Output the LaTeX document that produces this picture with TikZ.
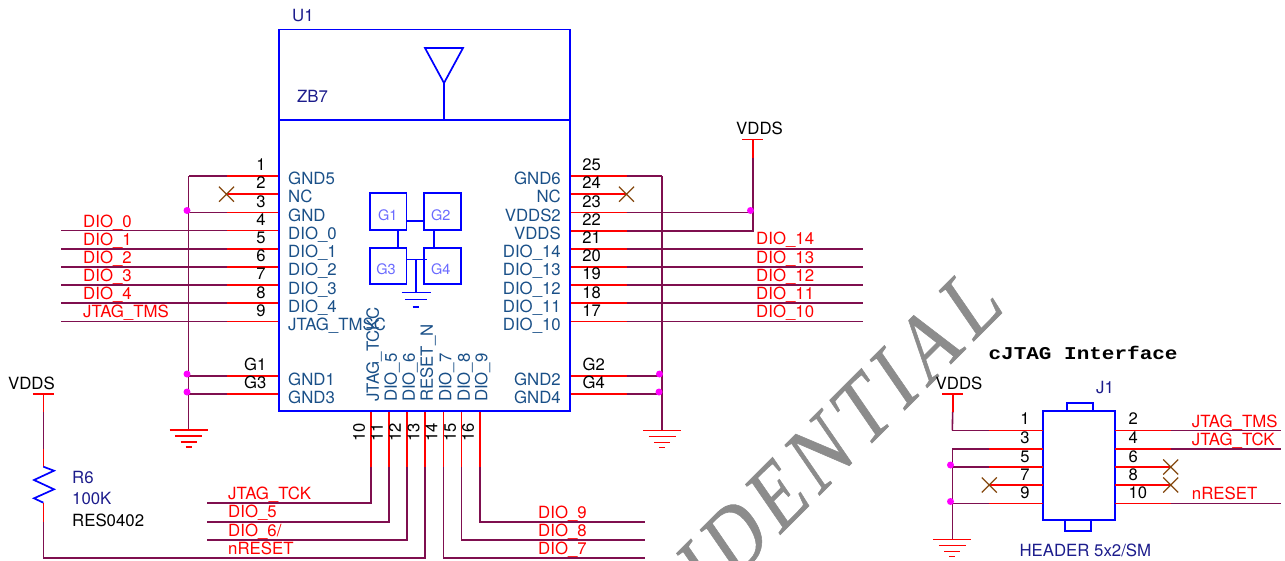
\documentclass[tikz,border=0pt]{standalone}
\usepackage{fontspec}
\setmainfont{TeX Gyre Heros}
\newfontfamily\wmfont{Liberation Serif}[LetterSpace=10,FakeBold=0.7]
\newfontfamily\cmono{Liberation Mono}[BoldFont={Liberation Mono Bold}]
\definecolor{wirec}{HTML}{7F0F4F}
\definecolor{pinc}{HTML}{FF0000}
\definecolor{boxc}{HTML}{0000FF}
\definecolor{namec}{HTML}{1A5088}
\definecolor{refc}{HTML}{1C1C8C}
\definecolor{gc}{HTML}{6A6AFF}
\definecolor{xc}{HTML}{84480F}
\definecolor{wmc}{HTML}{8C8C8C}
\definecolor{dotc}{HTML}{FF00FF}
\tikzset{
  wire/.style={draw=wirec,line width=1.6pt},
  pinw/.style={draw=pinc,line width=1.6pt},
  boxl/.style={draw=boxc,line width=1.7pt,outer sep=0pt},
  boxt/.style={draw=boxc,line width=1.4pt},
  txt/.style={inner sep=0pt,yshift=-0.6pt,text height=11.9pt,text depth=0pt,font=\fontsize{16.8}{18}\selectfont},
  pname/.style={txt,text=namec},
  netl/.style={txt,text=pinc,anchor=west},
  pnum/.style={txt,text=black,font=\fontsize{16.6}{18}\selectfont},
  refl/.style={txt,text=refc,anchor=west},
  glab/.style={txt,text=gc,font=\fontsize{14.5}{16}\selectfont},
  jdot/.style={circle,fill=dotc,inner sep=0pt,minimum size=7pt},
  gndpic/.pic={\path[pic actions,line width=1.6pt]
     (-19,0)--(19,0) (-13.5,6)--(13.5,6) (-8,12)--(8,12) (-3,17)--(3,17);},
  gndblue/.pic={\path[pic actions,line width=1.5pt]
     (-14.5,0)--(14.5,0) (-11,7)--(11,7) (-3.3,14.5)--(3.3,14.5);},
  ncx/.pic={\path[draw=xc,line width=1.3pt] (-7.5,-7.5)--(7.5,7.5) (-7.5,7.5)--(7.5,-7.5);},
  vbar/.pic={\path[draw=pinc,line width=1.6pt] (-10.5,0)--(10.5,0);},
}
\begin{document}
\begin{tikzpicture}[x=1pt,y=-1pt]
\useasboundingbox (0,0) rectangle (1285,560);
% watermark
\begin{scope}
\clip (0,0) rectangle (1285,560);
\begin{scope}[shift={(1006,309)},rotate=45,xslant=0.185,xscale=0.85]
\node[transform shape,anchor=base east,inner sep=0pt,text=wmc,font=\wmfont\fontsize{92}{92}\selectfont] (wm) at (0,0) {CONFIDENTIAL};
\end{scope}
\end{scope}

% U1 pin coordinates, left side
\foreach \n/\y in {a/176,b/194.2,c/212.4,d/230.5,e/248.7,f/267,g/285,h/303.2,i/321.4,j/376,k/394}{
  \coordinate (UL\n) at (279,\y);
  \coordinate (WL\n) at (226.5,\y);
  \coordinate (EL\n) at (61,\y);
  \coordinate (GL\n) at (188.5,\y);
}
\foreach \n/\y in {a/176,b/194.2,c/212.4,d/230.7,e/248.7,f/267,g/285,h/303.2,i/321.4,j/376,k/394}{
  \coordinate (UR\n) at (570,\y);
  \coordinate (WR\n) at (626.5,\y);
  \coordinate (ER\n) at (862.5,\y);
  \coordinate (GR\n) at (662,\y);
}
\foreach \n/\x in {a/371,b/389,c/407,d/425,e/443.5,f/461.5,g/480}{
  \coordinate (UB\n) at (\x,411);
  \coordinate (WB\n) at (\x,467);
}
% left wires
\foreach \n in {a,b,c,d,e,f,g,h,i,j,k}{\draw[pinw] (UL\n)--(WL\n);}
\foreach \n in {d,e,f,g,h,i}{\draw[wire] (WL\n)--(EL\n);}
\foreach \n in {a,c,j,k}{\draw[wire] (WL\n)--(GL\n);}
\coordinate (gndL) at (188.5,430);
\draw[wire] (GLa)--(gndL);
\pic[draw=pinc] at (gndL) {gndpic};
\pic at (WLb) {ncx};
% right wires
\foreach \n in {a,b,c,d,e,f,g,h,i,j,k}{\draw[pinw] (UR\n)--(WR\n);}
\foreach \n in {e,f,g,h,i}{\draw[wire] (WR\n)--(ER\n);}
\foreach \n in {a,j,k}{\draw[wire] (WR\n)--(GR\n);}
\coordinate (gndR) at (662,430.5);
\draw[wire] (GRa)--(gndR);
\pic[draw=pinc] at (gndR) {gndpic};
\pic at (WRb) {ncx};
% VDDS top right
\coordinate (vddT) at (752.7,139.5);
\coordinate (vddTm) at (752.7,157.7);
\coordinate (vddTb) at (752.7,230.7);
\coordinate (vddTj) at (752.7,212.4);
\draw[pinw] (vddT)--(vddTm);
\draw[wire] (vddTm)--(vddTb)--(WRd);
\draw[wire] (WRc)--(vddTj);
\pic at (vddT) {vbar};
% bottom wires
\foreach \n in {a,b,c,d,e,f,g}{\draw[pinw] (UB\n)--(WB\n);}
\coordinate (tckE) at (206.5,503);
\coordinate (d5E) at (206.5,521.7);
\coordinate (d6E) at (206.5,539.7);
\coordinate (d9E) at (645,521.7);
\coordinate (d8E) at (645,539.7);
\coordinate (d7E) at (645,558);
\draw[wire] (WBa)--(UBa|-tckE)--(tckE);
\draw[wire] (WBb)--(UBb|-d5E)--(d5E);
\draw[wire] (WBc)--(UBc|-d6E)--(d6E);
\draw[wire] (WBg)--(UBg|-d9E)--(d9E);
\draw[wire] (WBf)--(UBf|-d8E)--(d8E);
\draw[wire] (WBe)--(UBe|-d7E)--(d7E);
% R6 / VDDS left
\coordinate (vddL) at (43.4,394);
\coordinate (vddL1) at (43.4,412);
\coordinate (vddL2) at (43.4,448.7);
\coordinate (r6T) at (43.4,466.7);
\coordinate (r6B) at (43.4,502.7);
\coordinate (r6W) at (43.4,521.7);
\coordinate (r6E) at (43.4,558);
\draw[pinw] (vddL)--(vddL1);
\draw[wire] (vddL1)--(vddL2);
\draw[pinw] (vddL2)--(r6T);
\draw[boxl] (r6T)--(54,470.7)--(34,480)--(54,489.3)--(34,498.3)--(r6B);
\draw[pinw] (r6B)--(r6W);
\draw[wire] (r6W)--(r6E)--(UBd|-r6E)--(WBd);
\pic at (vddL) {vbar};

% U1 body
\node[boxl,inner sep=0pt,minimum width=291pt,minimum height=381.5pt,anchor=north west] (U1) at (279,29.5) {};
\coordinate (divL) at (279,120);
\coordinate (divR) at (570,120);
\draw[boxl] (divL)--(divR);
\coordinate (antB) at (444,83);
\coordinate (antS) at (444,120);
\draw[boxl] (425,48)--(463,48)--(antB)--cycle;
\draw[boxt] (antB)--(antS);
% G squares
\foreach \n/\xa/\ya in {1/370/193.3,2/424.3/193.3,3/370/247.7,4/424.3/247.7}{
  \node[boxl,inner sep=0pt,minimum size=36.4pt,anchor=north west] (G\n) at (\xa,\ya) {};
}
\draw[boxt] (G1.east|-0,221)--(G2.west|-0,221);
\draw[boxl] (397.7,229.5)--(397.7,247.7);
\draw[boxl] (434.3,229.5)--(434.3,247.7);
\coordinate (g34r) at (426.7,259.3);
\coordinate (gj) at (416,259.3);
\coordinate (gndC) at (416,292.3);
\draw[boxt] (G3.east|-g34r)--(g34r);
\draw[boxt] (gj)--(gndC);
\pic[draw=boxc] at (gndC) {gndblue};
\node[glab] (tG1) at (387.7,214.3) {G1};
\node[glab] (tG2) at (440.7,214.3) {G2};
\node[glab] (tG3) at (386,268) {G3};
\node[glab] (tG4) at (440.7,268) {G4};

% U1 texts
\node[refl] (tU1) at (292,15) {U1};
\node[refl] (tZB7) at (297,96) {ZB7};
\foreach \t/\y in {GND5/178,NC/196.4,GND/215,DIO\_0/233,DIO\_1/251.2,DIO\_2/269.4,DIO\_3/287.6,DIO\_4/306,JTAG\_TMSC/324,GND1/378.5,GND3/396.7}{
  \node[pname,anchor=west] at (288,\y) {\t};
}
\foreach \t/\y in {GND6/178,NC/196.4,VDDS2/215,VDDS/233,DIO\_14/251.2,DIO\_13/269.4,DIO\_12/287.6,DIO\_11/306,DIO\_10/324,GND2/378.5,GND4/396.7}{
  \node[pname,anchor=east] at (561,\y) {\t};
}
\foreach \t/\x in {JTAG\_TCKC/373,DIO\_5/391,DIO\_6/409,RESET\_N/427,DIO\_7/445.5,DIO\_8/464,DIO\_9/481.5}{
  \node[pname,rotate=90,anchor=west] at (\x,401.5) {\t};
}
% pin numbers
\foreach \t/\y in {1/164,2/182,3/200.5,4/218.5,5/237,6/255,7/273.3,8/291.5,9/309.5}{
  \node[pnum] at (261,\y) {\t};
}
\foreach \t/\y in {25/164,24/182,23/200.5,22/218.5,21/237,20/255,19/273.3,18/291.5,17/309.5}{
  \node[pnum] at (591.5,\y) {\t};
}
\foreach \t/\x in {10/359,11/377,12/395,13/413.5,14/431.5,15/450,16/468}{
  \node[pnum,rotate=90] at (\x,432) {\t};
}
\node[pnum,anchor=west] at (244,364) {G1};
\node[pnum,anchor=west] at (244,382) {G3};
\node[pnum,anchor=west] at (582.5,364) {G2};
\node[pnum,anchor=west] at (582.5,382) {G4};
% nets
\foreach \t/\y in {DIO\_0/220.7,DIO\_1/238.7,DIO\_2/256.7,DIO\_3/275,DIO\_4/293,JTAG\_TMS/311.2}{
  \node[netl] at (83,\y) {\t};
}
\foreach \t/\y in {DIO\_14/238.3,DIO\_13/256.5,DIO\_12/275,DIO\_11/293,DIO\_10/311.2}{
  \node[netl] at (756,\y) {\t};
}
\node[netl] (nTCK) at (228,493) {JTAG\_TCK};
\node[netl] (nD5) at (228,511.3) {DIO\_5};
\node[netl] (nD6) at (228,530) {DIO\_6/};
\node[netl] (nRS) at (228,548) {nRESET};
\foreach \t/\y in {DIO\_9/511.7,DIO\_8/530,DIO\_7/548}{
  \node[netl] at (538,\y) {\t};
}
\node[pnum,font=\fontsize{16.8}{18}\selectfont] (tV1) at (759.5,127.5) {VDDS};
\node[pnum,font=\fontsize{16.8}{18}\selectfont] (tV2) at (31.5,383) {VDDS};
\node[refl] (tR6) at (72,477) {R6};
\node[refl] (t100K) at (72,498) {100K};
\node[pnum,anchor=west,font=\fontsize{16.8}{18}\selectfont] (tRES) at (72,520) {RES0402};
% dots
\node[jdot] (dL1) at (187,210.5) {};
\node[jdot] (dL2) at (187,374) {};
\node[jdot] (dL3) at (187,392) {};
\node[jdot] (dR1) at (659.5,374) {};
\node[jdot] (dR2) at (659,392) {};
\node[jdot] (dV) at (750.5,210.5) {};

% J1
\node[boxl,inner sep=0pt,minimum width=72.6pt,minimum height=109pt,anchor=north west] (J1) at (1042.7,411.3) {};
\node[boxl,inner sep=0pt,minimum width=25.4pt,minimum height=8.3pt,anchor=south west] (tabT) at (1067.3,411.3) {};
\node[boxl,inner sep=0pt,minimum width=26pt,minimum height=10.4pt,anchor=north west] (tabB) at (1065,520.3) {};
\foreach \n/\y in {a/430.3,b/448.7,c/467,d/485,e/503.3}{
  \coordinate (JL\n) at (1042.7,\y);
  \coordinate (JWL\n) at (989.3,\y);
  \coordinate (JG\n) at (952.3,\y);
  \coordinate (JR\n) at (1115.3,\y);
  \coordinate (JWR\n) at (1170.7,\y);
  \coordinate (JE\n) at (1280.7,\y);
  \draw[pinw] (JL\n)--(JWL\n);
  \draw[pinw] (JR\n)--(JWR\n);
}
\foreach \n in {a,b,c,e}{\draw[wire] (JWL\n)--(JG\n);}
\foreach \n in {a,b,e}{\draw[wire] (JWR\n)--(JE\n);}
\pic at (JWLd) {ncx};
\pic at (JWRc) {ncx};
\pic at (JWRd) {ncx};
\coordinate (vddJ) at (952.7,394);
\coordinate (vddJm) at (952.7,412);
\coordinate (gndJ) at (952.3,539.3);
\draw[pinw] (vddJ)--(vddJm);
\draw[wire] (vddJm)--(JGa);
\draw[wire] (JGb)--(gndJ);
\pic at (vddJ) {vbar};
\pic[draw=pinc] at (gndJ) {gndpic};
\node[jdot] (dJ1) at (950.5,465) {};
\node[jdot] (dJ2) at (950.5,501.5) {};
\node[pnum,font=\fontsize{16.8}{18}\selectfont] (tV3) at (959,382.7) {VDDS};
\node[refl,anchor=center] (tJ1) at (1105,386.7) {J1};
\node[refl] (tH) at (1019.3,550) {HEADER 5x2/SM};
\node[anchor=west,inner sep=0pt,xscale=1.167,text height=10.5pt,text depth=0pt,font=\cmono\bfseries\fontsize{18}{18}\selectfont] (tC) at (988.3,354) {cJTAG Interface};
\foreach \t/\y in {1/418,3/437,5/455.5,7/473.5,9/491.7}{
  \node[pnum] at (1025,\y) {\t};
}
\foreach \t/\y in {2/418,4/437,6/455.5,8/473.5,10/491.7}{
  \node[pnum,anchor=west] at (1128.5,\y) {\t};
}
\node[netl] at (1191.7,420.7) {JTAG\_TMS};
\node[netl] at (1191.7,439) {JTAG\_TCK};
\node[netl] at (1191.7,493.3) {nRESET};
\end{tikzpicture}
\end{document}
